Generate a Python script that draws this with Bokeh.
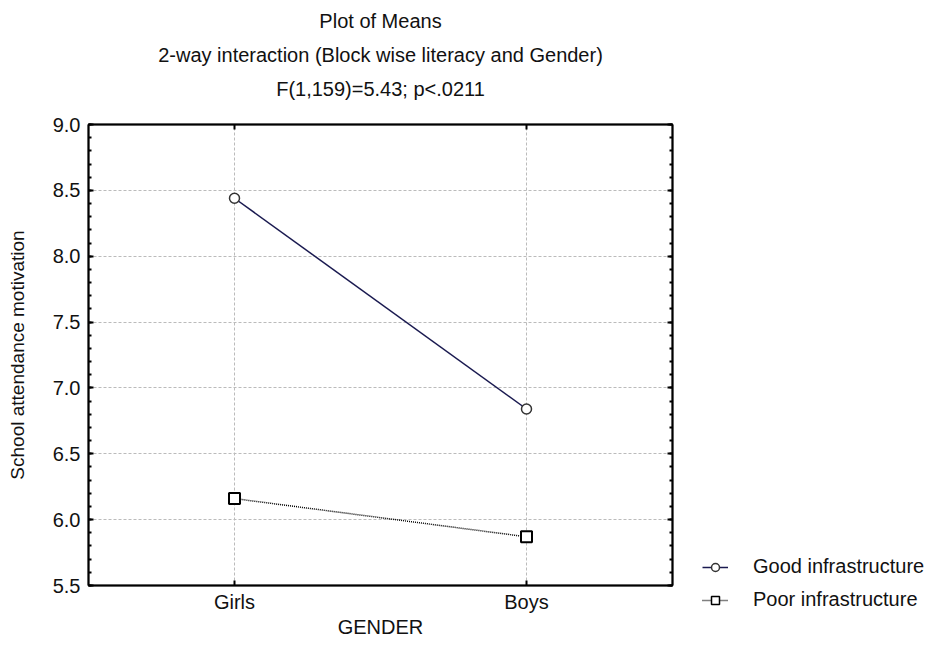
from bokeh.plotting import figure
from bokeh.layouts import row
from bokeh.models import (FactorRange, Range1d, LinearAxis, CategoricalAxis, Title,
                          Legend, LegendItem, SingleIntervalTicker, ColumnDataSource,
                          PrintfTickFormatter)
from bokeh.embed import file_html
from bokeh.resources import INLINE

genders = ["Girls", "Boys"]
good_infra = [8.44, 6.84]
poor_infra = [6.16, 5.87]
title_lines = ["Plot of Means",
               "2-way interaction (Block wise literacy and Gender)",
               "F(1,159)=5.43; p<.0211"]
series_names = ["Good infrastructure", "Poor infrastructure"]

FONT = "Liberation Sans"
TXT = "#111111"
GOOD_COLOR = "#1a1a50"

p = figure(width=680, height=640, x_range=FactorRange(*genders, range_padding=0),
           y_range=Range1d(5.5, 9.0), output_backend="svg", toolbar_location=None,
           min_border_left=88, min_border_right=8, min_border_top=124, min_border_bottom=10,
           background_fill_color="white", border_fill_color="white")
p.title = None
p.outline_line_color = "black"
p.outline_line_width = 1.5

xax = p.xaxis[0]
yax = p.yaxis[0]

# top axis with inward ticks (nearest the frame)
top_axis = CategoricalAxis(major_label_text_font_size="0px", axis_line_width=2,
                           major_tick_in=5, major_tick_out=0, major_tick_line_width=2,
                           major_label_standoff=0)
p.add_layout(top_axis, "above")
# invisible spacer between the frame and the title lines
spacer = CategoricalAxis(major_label_text_font_size="0px", axis_line_color=None,
                         major_tick_in=0, major_tick_out=20, major_tick_line_color=None,
                         minor_tick_line_color=None, major_label_standoff=0)
p.add_layout(spacer, "above")
for line in reversed(title_lines):
    p.add_layout(Title(text=line, align="center", text_font=FONT, text_font_size="20px",
                       text_font_style="normal", text_color=TXT, standoff=10), "above")

xax.axis_label = "GENDER"
yax.axis_label = "School attendance motivation"
yax.ticker = SingleIntervalTicker(interval=0.5, num_minor_ticks=5)
yax.formatter = PrintfTickFormatter(format="%.1f")
for ax in [xax, yax]:
    ax.axis_line_width = 2
    ax.axis_line_color = "black"
    ax.major_tick_in = 5
    ax.major_tick_out = 0
    ax.minor_tick_in = 3
    ax.minor_tick_out = 0
    ax.major_tick_line_width = 2
    ax.minor_tick_line_width = 2
    ax.major_label_text_font = FONT
    ax.major_label_text_font_size = "20px"
    ax.major_label_text_color = TXT
    ax.axis_label_text_font = FONT
    ax.axis_label_text_font_style = "normal"
    ax.axis_label_text_color = TXT
xax.axis_label_text_font_size = "20px"
yax.axis_label_text_font_size = "19px"
xax.major_label_standoff = 5
xax.axis_label_standoff = 0
yax.major_label_standoff = 8
yax.axis_label_standoff = 22

right_axis = LinearAxis(ticker=SingleIntervalTicker(interval=0.5, num_minor_ticks=5),
                        major_label_text_font_size="0px", axis_line_width=2,
                        major_tick_in=5, major_tick_out=0, minor_tick_in=3, minor_tick_out=0,
                        major_tick_line_width=2, minor_tick_line_width=2, major_label_standoff=0)
p.add_layout(right_axis, "right")

for g in [p.xgrid[0], p.ygrid[0]]:
    g.grid_line_color = "#bbbbbb"
    g.grid_line_dash = "3 2"
    g.grid_line_width = 1

src = ColumnDataSource(dict(g=genders, good=good_infra, poor=poor_infra))
line_good = dict(line_color=GOOD_COLOR, line_width=1.5)
mark_good = dict(marker="circle", size=10, fill_color="white", line_color="#333333", line_width=1.5)
line_poor = dict(line_color="black", line_width=1.5, line_dash="1 1")
mark_poor = dict(marker="square", size=11, fill_color="white", line_color="black", line_width=2)

p.line("g", "good", source=src, **line_good)
p.scatter("g", "good", source=src, **mark_good)
p.line("g", "poor", source=src, **line_poor)
p.scatter("g", "poor", source=src, **mark_poor)

# legend panel to the right of the plot; its renderers use the same data but
# a y range that keeps them out of view, so only the legend shows
lg = figure(width=262, height=640, x_range=FactorRange(*genders), y_range=Range1d(0, 1),
            output_backend="svg", toolbar_location=None, x_axis_location=None,
            y_axis_location=None, min_border=0, outline_line_color=None,
            background_fill_color="white", border_fill_color="white")
lg.title = None
lg.grid.visible = False
aligned = True
try:
    lg.frame_align = False
    p.frame_align = False
    aligned = False
except Exception:
    pass
a1 = lg.line("g", "good", source=src, **line_good)
b1 = lg.scatter("g", "good", source=src, **{**mark_good, "size": 8})
a2 = lg.line("g", "poor", source=src, **line_poor)
b2 = lg.scatter("g", "poor", source=src, **{**mark_poor, "size": 8, "line_width": 1.5})
legend = Legend(items=[LegendItem(label=series_names[0], renderers=[a1, b1]),
                       LegendItem(label=series_names[1], renderers=[a2, b2])],
                location=(22, 0 if aligned else 29), orientation="vertical", margin=0,
                label_text_font=FONT, label_text_font_size="20px", label_text_color=TXT,
                border_line_color=None, background_fill_alpha=0,
                glyph_width=26, glyph_height=20, spacing=10, padding=4, label_standoff=25)
lg.add_layout(legend, "center")

layout = row(p, lg, spacing=0)
open("out.html", "w").write(file_html(layout, INLINE))
